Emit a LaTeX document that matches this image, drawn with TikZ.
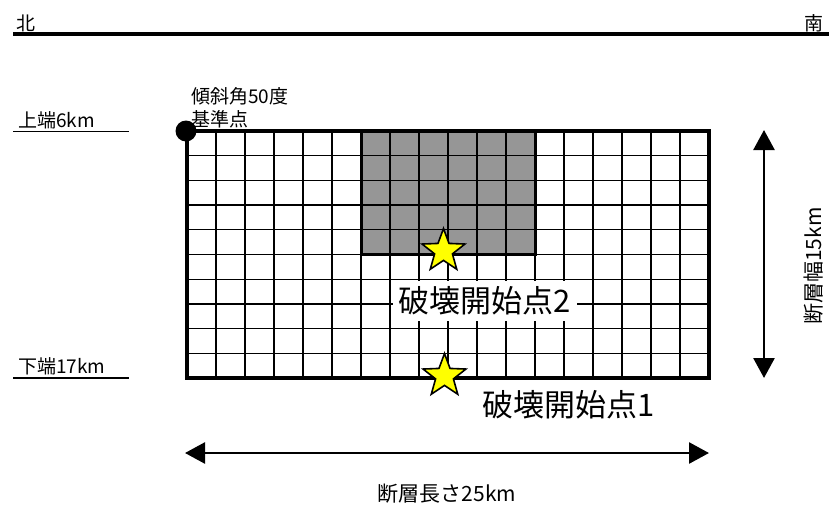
\documentclass[tikz,border=0pt]{standalone}
\usepackage{fontspec}
\setmainfont{Noto Sans CJK JP}
\usetikzlibrary{shapes.geometric,arrows.meta,positioning}
\definecolor{AspGray}{RGB}{150,150,150}
\definecolor{StarYellow}{RGB}{255,255,0}
\tikzset{
  % Labels
  lblS/.style={font=\fontsize{19}{23}\selectfont,inner sep=0pt},
  lblM/.style={font=\fontsize{21}{25}\selectfont,inner sep=0pt},
  lblL/.style={font=\fontsize{31}{36}\selectfont,inner sep=0pt},
  % Hypocentre star
  hypo/.style={star,star points=5,star point ratio=2.4,fill=StarYellow,
               draw=black,line width=1.6pt,minimum size=45pt,inner sep=0pt},
  % Lines
  arr/.style={{Triangle[length=20pt,width=21pt]}-{Triangle[length=20pt,width=21pt]},line width=2.6pt},
  cellline/.style={line width=1.3pt},
  faultedge/.style={line width=3.6pt},
  depthline/.style={line width=1.5pt}
}
\begin{document}
\begin{tikzpicture}[x=1pt,y=-1pt]
  \useasboundingbox (0,0) rectangle (829,504);

  % --- North / south ---
  \draw[line width=4pt] (13,34) -- (829,34);
  \node[lblS,anchor=base] (north) at (26,30)  {北};
  \node[lblS,anchor=base] (south) at (814,30) {南};

  % --- Depth marks ---
  \node[lblS,anchor=base west] (upper) at (18,127) {上端6km};
  \draw[depthline] (13,131.5) -- (129,131.5);
  \node[lblS,anchor=base west] (lower) at (18,373) {下端17km};
  \draw[depthline] (13,378) -- (129,378);

  % --- Fault plane (18 x 10 cells) ---
  \coordinate (tl) at (187,131);
  \coordinate (br) at (709,378);
  \fill[AspGray] (361,131) rectangle (535,254.5);
  \foreach \i in {1,...,17}
    \draw[cellline] ({187+29*\i},131) -- ({187+29*\i},378);
  \foreach \j in {1,...,9}
    \draw[cellline] (187,{131+24.7*\j}) -- (709,{131+24.7*\j});
  \draw[line width=3pt] (361,131) rectangle (535,254.5);
  \draw[faultedge] (tl) rectangle (br);

  % --- Reference point ---
  \node[circle,fill=black,minimum size=21pt,inner sep=0pt] (ref) at (186,131) {};
  \node[lblS,align=left,anchor=north west] (dip) at (191,87) {傾斜角50度\\基準点};

  % --- Hypocentres ---
  \node[lblL,fill=white,minimum width=184pt,minimum height=40pt] (hypo2) at (485,301) {破壊開始点2};
  \node[hypo] (star2) at (443.5,251) {};
  \node[hypo] (star1) at (444.5,376) {};
  \node[lblL] (hypo1) at (569,405) {破壊開始点1};

  % --- Dimensions ---
  \coordinate (wtop) at (764,130);
  \coordinate (wbot) at (764,378);
  \draw[arr] (wtop) -- (wbot);
  \node[lblM,rotate=90] (width) at (814,266) {断層幅15km};
  \coordinate (lleft)  at (185,453);
  \coordinate (lright) at (709,453);
  \draw[arr] (lleft) -- (lright);
  \node[lblM] (length) at (447,494) {断層長さ25km};
\end{tikzpicture}
\end{document}
